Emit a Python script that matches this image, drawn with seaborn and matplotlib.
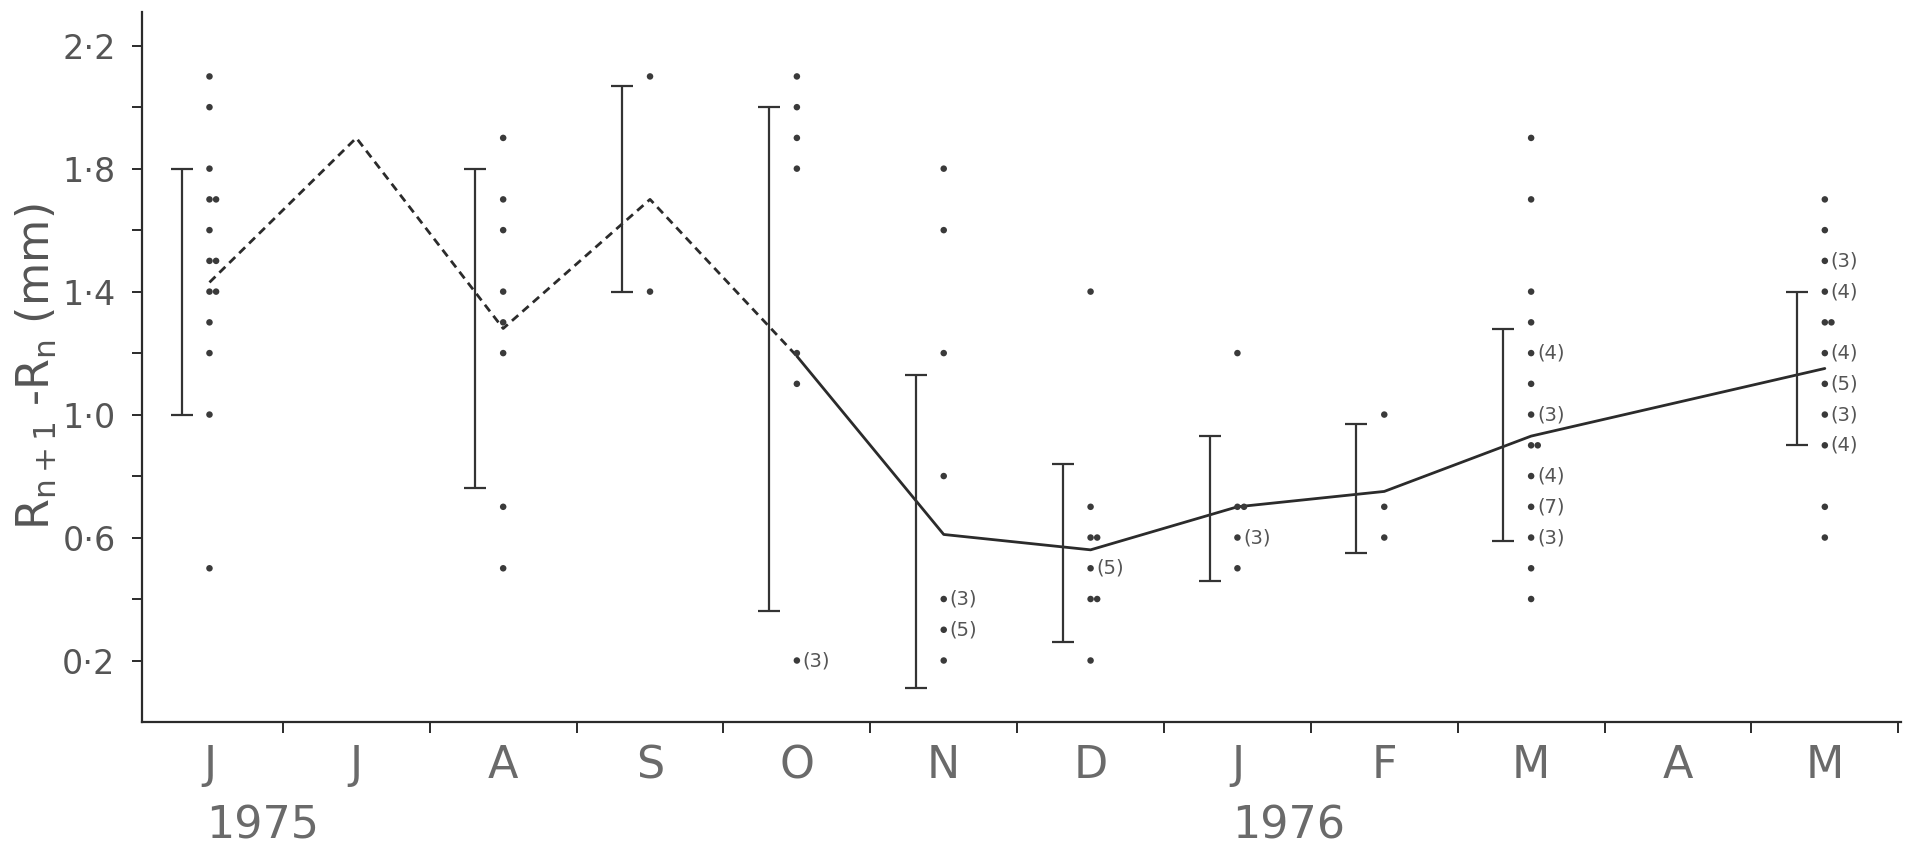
import numpy as np
import pandas as pd
import seaborn as sns
import matplotlib.pyplot as plt
import matplotlib.transforms as mtransforms
from matplotlib.ticker import FixedLocator, FuncFormatter

# -----------------------------
# Data
# -----------------------------
months = ["J", "J", "A", "S", "O", "N", "D", "J", "F", "M", "A", "M"]

# monthly mean increment (line); April 1976 has no sample
mean_x = [0, 1, 2, 3, 4, 5, 6, 7, 8, 9, 11]
mean_y = [1.43, 1.90, 1.28, 1.70, 1.19, 0.61, 0.56, 0.70, 0.75, 0.93, 1.15]
n_dashed = 5  # first five points joined by dashed line

# error bars (drawn just left of each column)
err_x = [0, 2, 3, 4, 5, 6, 7, 8, 9, 11]
err_lo = [1.00, 0.76, 1.40, 0.36, 0.11, 0.26, 0.46, 0.55, 0.59, 0.90]
err_hi = [1.80, 1.80, 2.07, 2.00, 1.13, 0.84, 0.93, 0.97, 1.28, 1.40]

# individual observations per month
obs_J75 = [2.1, 2.0, 1.8, 1.7, 1.7, 1.6, 1.5, 1.5, 1.4, 1.4, 1.3, 1.2, 1.0, 0.5]
obs_A75 = [1.9, 1.7, 1.6, 1.4, 1.3, 1.2, 0.7, 0.5]
obs_S75 = [2.1, 1.4]
obs_O75 = [2.1, 2.0, 1.9, 1.8, 1.2, 1.1, 0.2]
obs_N75 = [1.8, 1.6, 1.2, 0.8, 0.4, 0.3, 0.2]
obs_D75 = [1.4, 0.7, 0.6, 0.6, 0.5, 0.4, 0.4, 0.2]
obs_J76 = [1.2, 0.7, 0.7, 0.6, 0.5]
obs_F76 = [1.0, 0.7, 0.6]
obs_M76 = [1.9, 1.7, 1.4, 1.3, 1.2, 1.1, 1.0, 0.9, 0.9, 0.8, 0.7, 0.6, 0.5, 0.4]
obs_M76b = [1.7, 1.6, 1.5, 1.4, 1.3, 1.3, 1.2, 1.1, 1.0, 0.9, 0.7, 0.6]
obs_cols = [0, 2, 3, 4, 5, 6, 7, 8, 9, 11]
obs_all = [obs_J75, obs_A75, obs_S75, obs_O75, obs_N75,
           obs_D75, obs_J76, obs_F76, obs_M76, obs_M76b]

# sample counts written beside some points
cnt_x = [4, 5, 5, 6, 7, 9, 9, 9, 9, 9, 11, 11, 11, 11, 11, 11]
cnt_y = [0.2, 0.4, 0.3, 0.5, 0.6, 1.2, 1.0, 0.8, 0.7, 0.6, 1.5, 1.4, 1.2, 1.1, 1.0, 0.9]
cnt_txt = ["(3)", "(3)", "(5)", "(5)", "(3)", "(4)", "(3)", "(4)", "(7)", "(3)",
           "(3)", "(4)", "(4)", "(5)", "(3)", "(4)"]

# build point table; repeated values sit side by side
rows = []
for col, vals in zip(obs_cols, obs_all):
    seen = {}
    for v in vals:
        k = seen.get(v, 0)
        seen[v] = k + 1
        rows.append({"x": col + 0.045 * k, "y": v})
pts = pd.DataFrame(rows)

line_df = pd.DataFrame({"x": mean_x, "y": mean_y})

# -----------------------------
# Plot
# -----------------------------
sns.set_theme(style="ticks")
plt.rcParams["font.family"] = ["DejaVu Sans"]

fig = plt.figure(figsize=(19.05, 8.48), dpi=100)
fig.patch.set_facecolor("white")
ax = fig.add_axes([0.0745, 0.1486, 0.9235, 0.8374])

ink = "#2b2b2b"

sns.lineplot(data=line_df.iloc[:n_dashed], x="x", y="y", ax=ax, color=ink,
             lw=2.0, linestyle=(0, (3, 2)))
sns.lineplot(data=line_df.iloc[n_dashed - 1:], x="x", y="y", ax=ax, color=ink,
             lw=2.0)

sns.scatterplot(data=pts, x="x", y="y", ax=ax, color="#3a3a3a", s=22,
                edgecolor="none", zorder=3)

ebx = np.array(err_x) - 0.19
lo = np.array(err_lo)
hi = np.array(err_hi)
ax.errorbar(ebx, (lo + hi) / 2, yerr=(hi - lo) / 2, fmt="none",
            ecolor="#333333", elinewidth=1.6, capsize=8, capthick=1.6)

for cx, cy, t in zip(cnt_x, cnt_y, cnt_txt):
    ax.text(cx + 0.04, cy, t, fontsize=14, color="#555555",
            va="center", ha="left")

ax.set_xlim(-0.46, 11.52)
ax.set_ylim(0.0, 2.31)

ax.set_xticks(range(len(months)))
ax.set_xticklabels(months)
ax.xaxis.set_minor_locator(FixedLocator(np.arange(0.5, 11.6, 1.0)))
ax.tick_params(axis="x", which="major", length=0, pad=16,
               labelsize=32, labelcolor="#6a6a6a")
ax.tick_params(axis="x", which="minor", length=8, width=1.4, color=ink)

ax.yaxis.set_major_locator(FixedLocator([0.2, 0.6, 1.0, 1.4, 1.8, 2.2]))
ax.yaxis.set_minor_locator(FixedLocator([0.4, 0.8, 1.2, 1.6, 2.0]))
ax.yaxis.set_major_formatter(FuncFormatter(lambda v, p: f"{v:.1f}".replace(".", "\u00b7")))
ax.tick_params(axis="y", which="both", length=7, width=1.4, color=ink,
               labelsize=24, labelcolor="#555555", pad=12)

ax.set_xlabel("")
ax.set_ylabel(r"R$_{\mathregular{n+1}}$ -R$_{\mathregular{n}}$ (mm)",
              fontsize=32, color="#555555")
ax.yaxis.set_label_coords(-0.047, 0.5)

sns.despine(ax=ax)
for s in ("left", "bottom"):
    ax.spines[s].set_linewidth(1.6)
    ax.spines[s].set_color(ink)

trans = mtransforms.blended_transform_factory(ax.transData, ax.transAxes)
ax.text(0.36, -0.146, "1975", transform=trans, fontsize=32,
        color="#6a6a6a", ha="center", va="center")
ax.text(7.35, -0.146, "1976", transform=trans, fontsize=32,
        color="#6a6a6a", ha="center", va="center")

fig.savefig("out.png", dpi=100, facecolor="white")
